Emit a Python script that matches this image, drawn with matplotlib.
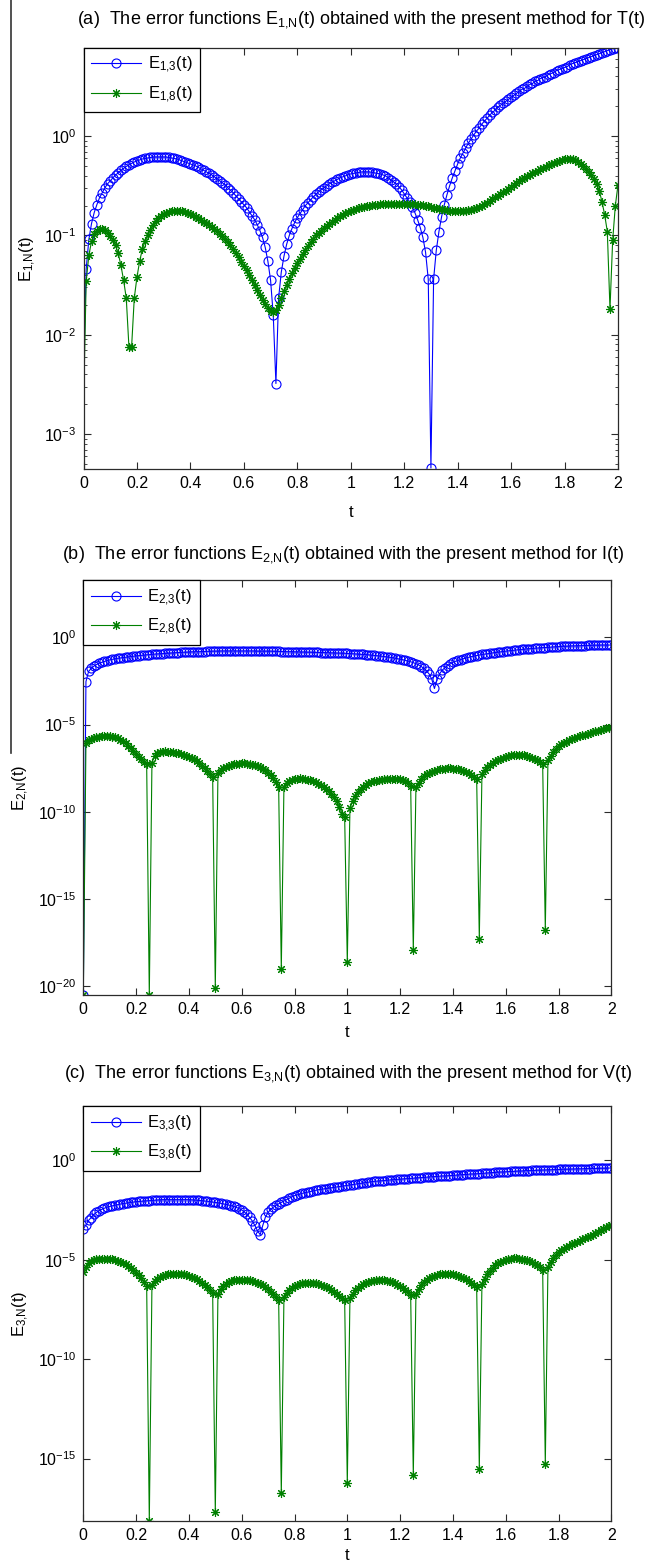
import numpy as np
import matplotlib
matplotlib.use("Agg")
import matplotlib.pyplot as plt
from matplotlib.lines import Line2D
from matplotlib.ticker import LogLocator, NullFormatter, NullLocator

plt.rcParams['font.family'] = ['Liberation Sans', 'DejaVu Sans']
plt.rcParams['mathtext.default'] = 'regular'

# sample times, step 0.01 on [0, 2]
t = np.arange(201) / 100.0

# log10 of the error values, one row per 0.1 in t
e13_exp = [
    -2.40, -1.34, -1.04, -0.88, -0.77, -0.69, -0.62, -0.57, -0.52, -0.48,
    -0.45, -0.42, -0.39, -0.37, -0.345, -0.325, -0.305, -0.29, -0.275, -0.26,
    -0.25, -0.24, -0.23, -0.225, -0.22, -0.215, -0.21, -0.21, -0.21, -0.21,
    -0.21, -0.21, -0.215, -0.22, -0.225, -0.23, -0.24, -0.25, -0.26, -0.27,
    -0.28, -0.29, -0.30, -0.315, -0.33, -0.345, -0.36, -0.375, -0.39, -0.41,
    -0.43, -0.45, -0.47, -0.49, -0.52, -0.545, -0.57, -0.60, -0.63, -0.66,
    -0.69, -0.72, -0.76, -0.80, -0.84, -0.89, -0.95, -1.02, -1.12, -1.26,
    -1.45, -1.80, -2.49, -1.63, -1.37, -1.21, -1.09, -1.00, -0.93, -0.87,
    -0.82, -0.78, -0.74, -0.70, -0.67, -0.64, -0.61, -0.585, -0.56, -0.54,
    -0.52, -0.50, -0.48, -0.465, -0.45, -0.435, -0.42, -0.41, -0.40, -0.39,
    -0.38, -0.375, -0.37, -0.365, -0.36, -0.36, -0.36, -0.36, -0.365, -0.37,
    -0.375, -0.38, -0.39, -0.40, -0.42, -0.44, -0.46, -0.48, -0.51, -0.54,
    -0.58, -0.62, -0.66, -0.71, -0.77, -0.84, -0.92, -1.02, -1.17, -1.44,
    -3.34, -1.44, -1.15, -0.96, -0.81, -0.69, -0.59, -0.50, -0.42, -0.35,
    -0.28, -0.22, -0.17, -0.12, -0.07, -0.03, 0.01, 0.05, 0.08, 0.12,
    0.15, 0.18, 0.21, 0.24, 0.26, 0.29, 0.31, 0.33, 0.35, 0.37,
    0.39, 0.41, 0.43, 0.45, 0.47, 0.48, 0.50, 0.52, 0.53, 0.55,
    0.56, 0.58, 0.59, 0.60, 0.62, 0.63, 0.64, 0.66, 0.67, 0.68,
    0.69, 0.70, 0.72, 0.73, 0.74, 0.75, 0.76, 0.77, 0.78, 0.79,
    0.80, 0.81, 0.82, 0.83, 0.84, 0.85, 0.86, 0.87, 0.88, 0.885,
    0.89,
]
e18_exp = [
    -2.73, -1.46, -1.20, -1.06, -0.98, -0.95, -0.93, -0.93, -0.94, -0.97,
    -1.01, -1.05, -1.10, -1.18, -1.30, -1.45, -1.63, -2.12, -2.12, -1.63,
    -1.42, -1.26, -1.14, -1.06, -1.00, -0.94, -0.89, -0.85, -0.82, -0.80,
    -0.78, -0.77, -0.76, -0.755, -0.75, -0.75, -0.75, -0.755, -0.76, -0.77,
    -0.78, -0.79, -0.81, -0.82, -0.84, -0.86, -0.87, -0.89, -0.91, -0.93,
    -0.95, -0.98, -1.01, -1.04, -1.07, -1.10, -1.14, -1.18, -1.22, -1.27,
    -1.31, -1.35, -1.40, -1.45, -1.50, -1.55, -1.60, -1.65, -1.69, -1.73,
    -1.76, -1.77, -1.75, -1.70, -1.63, -1.56, -1.50, -1.44, -1.38, -1.33,
    -1.28, -1.24, -1.19, -1.15, -1.11, -1.07, -1.04, -1.00, -0.97, -0.95,
    -0.92, -0.90, -0.88, -0.86, -0.84, -0.82, -0.80, -0.79, -0.77, -0.76,
    -0.75, -0.74, -0.73, -0.72, -0.715, -0.71, -0.70, -0.70, -0.695, -0.69,
    -0.69, -0.685, -0.685, -0.68, -0.68, -0.68, -0.68, -0.68, -0.68, -0.68,
    -0.68, -0.68, -0.68, -0.685, -0.685, -0.69, -0.69, -0.69, -0.70, -0.70,
    -0.71, -0.72, -0.72, -0.73, -0.73, -0.74, -0.74, -0.75, -0.75, -0.75,
    -0.75, -0.75, -0.75, -0.75, -0.74, -0.74, -0.73, -0.72, -0.71, -0.70,
    -0.68, -0.67, -0.65, -0.63, -0.61, -0.60, -0.58, -0.56, -0.55, -0.53,
    -0.51, -0.49, -0.47, -0.45, -0.43, -0.42, -0.40, -0.39, -0.37, -0.36,
    -0.35, -0.33, -0.32, -0.31, -0.29, -0.28, -0.27, -0.26, -0.25, -0.24,
    -0.235, -0.23, -0.23, -0.235, -0.24, -0.26, -0.28, -0.30, -0.33, -0.36,
    -0.39, -0.43, -0.48, -0.55, -0.66, -0.79, -0.96, -1.74, -1.05, -0.70,
    -0.49,
]
e23_exp = [
    -20.50, -2.54, -1.95, -1.78, -1.65, -1.56, -1.49, -1.43, -1.38, -1.33,
    -1.29, -1.26, -1.23, -1.20, -1.18, -1.16, -1.14, -1.12, -1.10, -1.08,
    -1.06, -1.05, -1.03, -1.02, -1.00, -0.99, -0.97, -0.96, -0.95, -0.94,
    -0.93, -0.92, -0.91, -0.90, -0.89, -0.88, -0.87, -0.86, -0.85, -0.85,
    -0.84, -0.83, -0.83, -0.82, -0.82, -0.81, -0.81, -0.80, -0.80, -0.79,
    -0.79, -0.79, -0.78, -0.78, -0.78, -0.78, -0.78, -0.78, -0.78, -0.78,
    -0.78, -0.78, -0.78, -0.78, -0.78, -0.78, -0.79, -0.79, -0.79, -0.79,
    -0.79, -0.79, -0.80, -0.80, -0.80, -0.81, -0.81, -0.82, -0.82, -0.82,
    -0.83, -0.83, -0.84, -0.84, -0.84, -0.85, -0.85, -0.86, -0.86, -0.86,
    -0.87, -0.87, -0.88, -0.88, -0.89, -0.89, -0.90, -0.90, -0.91, -0.91,
    -0.92, -0.93, -0.94, -0.95, -0.96, -0.97, -0.98, -0.99, -1.00, -1.02,
    -1.03, -1.05, -1.06, -1.08, -1.10, -1.12, -1.14, -1.16, -1.19, -1.22,
    -1.25, -1.28, -1.32, -1.36, -1.40, -1.45, -1.51, -1.58, -1.67, -1.78,
    -1.92, -2.10, -2.40, -2.93, -2.40, -2.08, -1.87, -1.74, -1.62, -1.52,
    -1.43, -1.37, -1.32, -1.27, -1.22, -1.18, -1.14, -1.10, -1.07, -1.04,
    -1.01, -0.98, -0.96, -0.94, -0.92, -0.89, -0.87, -0.85, -0.83, -0.81,
    -0.79, -0.77, -0.76, -0.74, -0.72, -0.71, -0.69, -0.68, -0.66, -0.65,
    -0.64, -0.62, -0.61, -0.60, -0.59, -0.58, -0.57, -0.56, -0.55, -0.54,
    -0.53, -0.52, -0.51, -0.51, -0.50, -0.49, -0.49, -0.48, -0.48, -0.47,
    -0.47, -0.46, -0.46, -0.45, -0.45, -0.45, -0.44, -0.44, -0.44, -0.44,
    -0.44,
]
e28_exp = [
    -20.50, -6.08, -5.90, -5.82, -5.77, -5.72, -5.69, -5.67, -5.66, -5.66,
    -5.67, -5.69, -5.73, -5.79, -5.87, -5.96, -6.07, -6.20, -6.35, -6.52,
    -6.68, -6.83, -6.98, -7.12, -7.26, -20.50, -7.18, -6.80, -6.65, -6.58,
    -6.55, -6.54, -6.55, -6.56, -6.58, -6.61, -6.64, -6.68, -6.73, -6.79,
    -6.85, -6.92, -7.00, -7.10, -7.22, -7.35, -7.50, -7.67, -7.84, -8.00,
    -20.08, -7.78, -7.60, -7.48, -7.41, -7.35, -7.30, -7.27, -7.25, -7.24,
    -7.23, -7.23, -7.24, -7.26, -7.29, -7.33, -7.38, -7.45, -7.53, -7.63,
    -7.75, -7.90, -8.08, -8.30, -8.60, -19.00, -8.55, -8.35, -8.25, -8.17,
    -8.12, -8.10, -8.09, -8.10, -8.12, -8.15, -8.19, -8.24, -8.30, -8.38,
    -8.47, -8.57, -8.69, -8.83, -8.99, -9.17, -9.40, -9.70, -10.10, -10.30,
    -18.60, -9.80, -9.40, -9.10, -8.85, -8.68, -8.55, -8.45, -8.37, -8.30,
    -8.25, -8.21, -8.18, -8.15, -8.13, -8.12, -8.11, -8.10, -8.10, -8.11,
    -8.13, -8.17, -8.23, -8.32, -8.50, -17.93, -8.55, -8.35, -8.10, -7.95,
    -7.85, -7.78, -7.72, -7.66, -7.61, -7.57, -7.54, -7.52, -7.51, -7.51,
    -7.52, -7.54, -7.57, -7.61, -7.66, -7.72, -7.80, -7.88, -7.98, -8.10,
    -17.27, -7.85, -7.60, -7.42, -7.30, -7.20, -7.10, -7.02, -6.95, -6.89,
    -6.84, -6.80, -6.77, -6.75, -6.74, -6.74, -6.75, -6.77, -6.80, -6.85,
    -6.90, -6.97, -7.05, -7.14, -7.25, -16.75, -7.05, -6.80, -6.55, -6.38,
    -6.25, -6.14, -6.05, -5.97, -5.90, -5.83, -5.77, -5.72, -5.67, -5.62,
    -5.57, -5.53, -5.48, -5.44, -5.39, -5.35, -5.30, -5.26, -5.21, -5.17,
    -5.12,
]
e33_exp = [
    -3.45, -3.25, -3.02, -2.88, -2.72, -2.62, -2.54, -2.47, -2.41, -2.36,
    -2.32, -2.29, -2.26, -2.23, -2.20, -2.18, -2.16, -2.14, -2.12, -2.10,
    -2.08, -2.07, -2.06, -2.05, -2.04, -2.03, -2.02, -2.01, -2.00, -1.99,
    -1.98, -1.98, -1.98, -1.98, -1.98, -1.98, -1.98, -1.98, -1.98, -1.98,
    -1.98, -1.99, -2.00, -2.01, -2.02, -2.03, -2.05, -2.06, -2.08, -2.10,
    -2.12, -2.14, -2.16, -2.19, -2.22, -2.25, -2.28, -2.32, -2.37, -2.43,
    -2.50, -2.60, -2.72, -2.87, -3.05, -3.28, -3.55, -3.74, -3.27, -2.85,
    -2.62, -2.47, -2.36, -2.27, -2.19, -2.12, -2.05, -1.98, -1.91, -1.84,
    -1.78, -1.74, -1.70, -1.66, -1.63, -1.60, -1.57, -1.54, -1.51, -1.48,
    -1.46, -1.44, -1.42, -1.40, -1.38, -1.36, -1.34, -1.32, -1.30, -1.28,
    -1.26, -1.24, -1.22, -1.20, -1.18, -1.16, -1.14, -1.12, -1.10, -1.08,
    -1.06, -1.05, -1.04, -1.03, -1.02, -1.00, -0.99, -0.98, -0.97, -0.96,
    -0.95, -0.94, -0.93, -0.92, -0.91, -0.90, -0.89, -0.88, -0.87, -0.86,
    -0.85, -0.84, -0.83, -0.82, -0.81, -0.80, -0.79, -0.79, -0.78, -0.77,
    -0.76, -0.75, -0.74, -0.73, -0.72, -0.71, -0.70, -0.69, -0.69, -0.68,
    -0.67, -0.66, -0.65, -0.64, -0.63, -0.62, -0.61, -0.60, -0.59, -0.59,
    -0.58, -0.57, -0.56, -0.56, -0.55, -0.54, -0.54, -0.53, -0.52, -0.52,
    -0.51, -0.51, -0.50, -0.50, -0.49, -0.49, -0.48, -0.48, -0.47, -0.47,
    -0.46, -0.46, -0.45, -0.45, -0.45, -0.44, -0.44, -0.43, -0.43, -0.43,
    -0.42, -0.42, -0.42, -0.41, -0.41, -0.41, -0.40, -0.40, -0.40, -0.39,
    -0.39,
]
e38_exp = [
    -5.61, -5.35, -5.18, -5.08, -5.02, -4.98, -4.96, -4.94, -4.94, -4.94,
    -4.95, -4.97, -5.00, -5.04, -5.09, -5.15, -5.22, -5.30, -5.40, -5.52,
    -5.65, -5.78, -5.93, -6.10, -6.30, -18.14, -6.28, -6.08, -5.95, -5.86,
    -5.80, -5.76, -5.73, -5.71, -5.70, -5.70, -5.70, -5.71, -5.73, -5.76,
    -5.80, -5.85, -5.91, -5.98, -6.06, -6.15, -6.26, -6.38, -6.52, -6.67,
    -17.71, -6.70, -6.48, -6.33, -6.22, -6.14, -6.08, -6.04, -6.01, -6.00,
    -6.00, -6.00, -6.01, -6.03, -6.06, -6.10, -6.15, -6.21, -6.29, -6.38,
    -6.48, -6.60, -6.74, -6.88, -7.04, -16.75, -6.90, -6.66, -6.50, -6.40,
    -6.32, -6.26, -6.21, -6.18, -6.16, -6.15, -6.15, -6.16, -6.18, -6.21,
    -6.25, -6.30, -6.36, -6.43, -6.51, -6.60, -6.70, -6.81, -6.93, -7.05,
    -16.25, -6.95, -6.70, -6.52, -6.40, -6.30, -6.22, -6.16, -6.11, -6.07,
    -6.05, -6.03, -6.03, -6.03, -6.04, -6.06, -6.09, -6.13, -6.18, -6.25,
    -6.33, -6.42, -6.52, -6.63, -6.76, -15.83, -6.70, -6.45, -6.25, -6.10,
    -6.00, -5.92, -5.85, -5.80, -5.76, -5.73, -5.71, -5.70, -5.70, -5.71,
    -5.73, -5.76, -5.80, -5.85, -5.91, -5.98, -6.06, -6.15, -6.25, -6.36,
    -15.53, -6.20, -5.95, -5.72, -5.55, -5.40, -5.28, -5.18, -5.10, -5.04,
    -4.99, -4.96, -4.94, -4.93, -4.93, -4.94, -4.96, -4.99, -5.03, -5.08,
    -5.14, -5.21, -5.29, -5.38, -5.50, -15.28, -5.35, -5.10, -4.90, -4.74,
    -4.62, -4.52, -4.44, -4.36, -4.29, -4.22, -4.16, -4.10, -4.04, -3.98,
    -3.92, -3.86, -3.80, -3.74, -3.68, -3.60, -3.52, -3.45, -3.38, -3.32,
    -3.27,
]

panels = [
    dict(tag='(a)', idx='1', var='T(t)', low=e13_exp, high=e18_exp,
         ylim=(-3.35, 0.89), ticks=None),
    dict(tag='(b)', idx='2', var='I(t)', low=e23_exp, high=e28_exp,
         ylim=(-20.52, 3.29), ticks=[-20, -15, -10, -5, 0]),
    dict(tag='(c)', idx='3', var='V(t)', low=e33_exp, high=e38_exp,
         ylim=(-18.14, 2.73), ticks=[-15, -10, -5, 0]),
]

W, H = 654, 1561
# axes boxes in pixels: left, right, top, bottom
boxes = [(83.5, 618, 47.7, 469), (83.3, 611.3, 580, 995.3), (83.3, 611.3, 1106, 1521)]
title_pos = [(361, 20), (343, 555), (348, 1074)]
xlabel_y = [505, 1025, 1548]
ylabel_x = [38, 31, 31]

BLUE = (0, 0, 1)
GREEN = (0, 0.5, 0)
AXC = '#2b2b2b'


def sub(a, b):
    return r'E$_{\mathregular{%s{,}%s}}$(t)' % (a, b)


fig = plt.figure(figsize=(W / 100, H / 100), dpi=100)

for p, (l, r, top, bot), (tx, ty), xly, ylx in zip(panels, boxes, title_pos,
                                                    xlabel_y, ylabel_x):
    ax = fig.add_axes([l / W, 1 - bot / H, (r - l) / W, (bot - top) / H])
    y1 = 10.0 ** np.array(p['low'])
    y2 = 10.0 ** np.array(p['high'])
    skip = slice(1, None) if p['idx'] == '1' else None
    ax.plot(t, y1, '-', color=BLUE, lw=0.8, marker='o', ms=6.5, mfc='none',
            mew=0.8, markevery=skip, label=sub(p['idx'], '3'))
    ax.plot(t, y2, '-', color=GREEN, lw=0.8, marker=(8, 2, 0), ms=6.5,
            mew=0.8, markevery=skip, label=sub(p['idx'], '8'))
    ax.set_yscale('log')
    ax.set_xlim(0, 2)
    ax.set_ylim(10.0 ** p['ylim'][0], 10.0 ** p['ylim'][1])
    ax.set_xticks(np.arange(0, 2.01, 0.2))
    ax.set_xticklabels(['0', '0.2', '0.4', '0.6', '0.8', '1', '1.2', '1.4',
                        '1.6', '1.8', '2'])
    if p['ticks'] is None:
        ax.yaxis.set_major_locator(LogLocator(base=10))
        ax.yaxis.set_minor_locator(LogLocator(base=10, subs=range(2, 10)))
        ax.yaxis.set_minor_formatter(NullFormatter())
    else:
        ax.set_yticks([10.0 ** k for k in p['ticks']])
        ax.set_yticklabels([r'10$^{%d}$' % k for k in p['ticks']])
        ax.yaxis.set_minor_locator(NullLocator())
    ax.tick_params(which='both', direction='in', top=True, right=True,
                   labelsize=11.5, colors=AXC, labelcolor='black')
    ax.tick_params(which='major', length=5, pad=5)
    ax.tick_params(which='minor', length=2.5)
    for s in ax.spines.values():
        s.set_color(AXC)
        s.set_linewidth(0.9)

    ax.set_ylabel(sub(p['idx'], 'N'), fontsize=12)
    ax.yaxis.set_label_coords((ylx - l) / (r - l), 0.5)
    ax.set_xlabel('t', fontsize=12)
    ax.xaxis.set_label_coords(0.5, -(xly - bot) / (bot - top))

    leg = ax.legend(loc='upper left', borderaxespad=0, fancybox=False,
                    framealpha=1, edgecolor='black', fontsize=12,
                    handlelength=3.0, handletextpad=0.4, labelspacing=0.55,
                    borderpad=0.45)
    leg.get_frame().set_linewidth(0.9)

    fig.text(tx / W, 1 - ty / H,
             r'%s  The error functions %s obtained with the present method '
             r'for %s' % (p['tag'], sub(p['idx'], 'N'), p['var']),
             ha='center', va='center', fontsize=13)

# thin border stroke down the left side
fig.add_artist(Line2D([11 / W, 11 / W], [1, 1 - 753 / H], color='#333333',
                      lw=1.2, transform=fig.transFigure))

fig.savefig('out.png', dpi=100)
